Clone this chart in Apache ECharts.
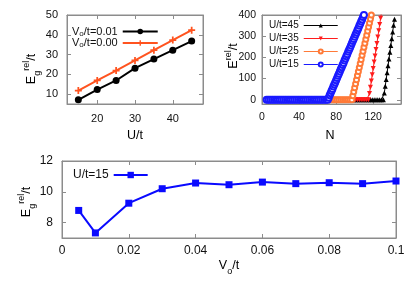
<!DOCTYPE html>
<html>
<head>
<meta charset="utf-8">
<script src="https://cdn.jsdelivr.net/npm/echarts@6/dist/echarts.min.js"></script>
<style>html,body{margin:0;padding:0;background:#fff}#c{width:415px;height:291px}</style>
</head>
<body>
<div id="c"></div>
<script>
// ---- Top-left panel: E_g^rel/t vs U/t ----
var uVals = [15, 20, 25, 30, 35, 40, 45];
var egV001 = [7.1, 12.3, 16.9, 23.1, 27.7, 32.2, 36.8];
var egV000 = [11.8, 16.9, 21.9, 27.0, 32.2, 37.3, 42.3];
var tlXTicks = [20, 30, 40];
var tlYTicks = [10, 20, 30, 40, 50];

// ---- Top-right panel: E^rel/t vs N ----
var eU45 = [[5,0],[9,0],[13,0],[17,0],[21,0],[25,0],[29,0],[33,0],[37,0],[41,0],[45,0],[49,0],[53,0],[57,0],[61,0],[65,0],[69,0],[73,0],[77,0],[81,0],[85,0],[89,0],[93,0],[97,0],[99,0],[101,0],[103,0],[105,0],[107,0],[109,0],[111,0],[113,0],[115,0],[117,0],[119,0],[121,0],[123,0],[125,0],[127,0],[129,0],[131,0],[132,32],[133,64],[134,96],[135,128],[136,160],[137,192],[138,224],[139,256],[140,288],[141,320],[142,352],[143,380]];
var eU35 = [[5,0],[9,0],[13,0],[17,0],[21,0],[25,0],[29,0],[33,0],[37,0],[41,0],[45,0],[49,0],[53,0],[57,0],[61,0],[65,0],[69,0],[73,0],[77,0],[81,0],[85,0],[89,0],[93,0],[97,0],[99,0],[101,0],[103,0],[105,0],[107,0],[109,0],[111,0],[113,0],[115,0],[116,30],[117,59],[118,89],[119,118],[120,148],[121,178],[122,207],[123,237],[124,266],[125,296],[126,326],[127,355],[128,385],[129,414]];
var eU25 = [[5,0],[9,0],[13,0],[17,0],[21,0],[25,0],[29,0],[33,0],[37,0],[41,0],[45,0],[49,0],[53,0],[57,0],[61,0],[65,0],[69,0],[71,0],[73,0],[75,0],[77,0],[79,0],[81,0],[83,0],[85,0],[87,0],[89,0],[91,0],[93,0],[95,0],[97,0],[98,19],[99,38],[100,57],[101,76],[102,95],[103,114],[104,133],[105,152],[106,171],[107,190],[108,210],[109,229],[110,248],[111,267],[112,286],[113,305],[114,324],[115,343],[116,362],[117,381],[118,400]];
var eU15 = [[5,0],[7,0],[9,0],[11,0],[13,0],[15,0],[17,0],[19,0],[21,0],[23,0],[25,0],[27,0],[29,0],[31,0],[33,0],[35,0],[37,0],[39,0],[41,0],[43,0],[45,0],[47,0],[49,0],[51,0],[53,0],[55,0],[57,0],[59,0],[61,0],[63,0],[65,0],[67,0],[69,0],[71,0],[72,10],[73,21],[74,31],[75,41],[76,51],[77,62],[78,72],[79,82],[80,92],[81,103],[82,113],[83,123],[84,133],[85,144],[86,154],[87,164],[88,174],[89,185],[90,195],[91,205],[92,215],[93,226],[94,236],[95,246],[96,256],[97,267],[98,277],[99,287],[100,297],[101,308],[102,318],[103,328],[104,338],[105,349],[106,359],[107,369],[108,379],[109,390],[110,400]];
var trXTicks = [0, 40, 80, 120];
var trYTicks = [0, 100, 200, 300, 400];

// ---- Bottom panel: E_g^rel/t vs V_o/t ----
var voVals = [0.005, 0.01, 0.02, 0.03, 0.04, 0.05, 0.06, 0.07, 0.08, 0.09, 0.1];
var egU15 = [8.79, 7.33, 9.26, 10.2, 10.57, 10.46, 10.63, 10.53, 10.59, 10.53, 10.70];
var bXTicks = [0, 0.02, 0.04, 0.06, 0.08, 0.1];
var bYTicks = [8, 10, 12];

var FONT = 'Liberation Sans';
var FRAME = '#8c8c8c';

function pairs(xs, ys) { return xs.map(function (x, i) { return [x, ys[i]]; }); }

function mkAxis(grid, pos, min, max, ticks, fs, margin, showLabel, fmt) {
  return {
    type: 'value', gridIndex: grid, position: pos, min: min, max: max,
    axisLine: { show: true, onZero: false, lineStyle: { color: FRAME, width: 1 } },
    axisTick: { show: true, inside: true, length: 4, customValues: ticks, lineStyle: { color: FRAME } },
    axisLabel: { show: showLabel, customValues: ticks, fontSize: fs, fontFamily: FONT, color: '#111', margin: margin, formatter: fmt },
    splitLine: { show: false }
  };
}

var richBase = function (fs) {
  return {
    a: { fontSize: fs, fontFamily: FONT, color: '#111', lineHeight: 20 },
    sub: { fontSize: fs * 0.72, fontFamily: FONT, color: '#111', lineHeight: 9, verticalAlign: 'bottom' },
    sup: { fontSize: fs * 0.72, fontFamily: FONT, color: '#111', lineHeight: 9, verticalAlign: 'top' }
  };
};

function title(x, y, text, fs, rot) {
  return {
    type: 'text', x: x, y: y, rotation: rot ? Math.PI / 2 : 0,
    style: { text: text, rich: richBase(fs), align: 'center', verticalAlign: 'middle', fontFamily: FONT }
  };
}

var fmtB = function (v) { return String(+v.toFixed(2)); };

var option = {
  animation: false,
  backgroundColor: '#fff',
  grid: [
    { left: 67, right: 212, top: 15, bottom: 187, show: true, borderColor: FRAME, borderWidth: 1 },
    { left: 262, right: 14, top: 15, bottom: 187, show: true, borderColor: FRAME, borderWidth: 1 },
    { left: 62, right: 19, top: 161, bottom: 53, show: true, borderColor: FRAME, borderWidth: 1 }
  ],
  xAxis: [
    mkAxis(0, 'bottom', 12, 48, tlXTicks, 11, 9, true),
    mkAxis(0, 'top', 12, 48, tlXTicks, 11, 9, false),
    mkAxis(1, 'bottom', 0, 150, trXTicks, 10.5, 8, true),
    mkAxis(1, 'top', 0, 150, trXTicks, 10.5, 8, false),
    mkAxis(2, 'bottom', 0, 0.1, bXTicks, 12, 7, true, fmtB),
    mkAxis(2, 'top', 0, 0.1, bXTicks, 12, 7, false)
  ],
  yAxis: [
    mkAxis(0, 'left', 5, 50, tlYTicks, 11, 9, true),
    mkAxis(0, 'right', 5, 50, tlYTicks, 11, 9, false),
    mkAxis(1, 'left', -20, 400, trYTicks, 10.5, 6, true),
    mkAxis(1, 'right', -20, 400, trYTicks, 10.5, 6, false),
    mkAxis(2, 'left', 7, 12, bYTicks, 12, 9, true),
    mkAxis(2, 'right', 7, 12, bYTicks, 12, 9, false)
  ],
  legend: [
    {
      data: ['V001', 'V000'], orient: 'vertical', left: 72, top: 26, padding: 0, itemGap: 0,
      align: 'right', itemWidth: 35, itemHeight: 7,
      formatter: function (n) { return n === 'V001' ? '{a|V}{sub|o}{a|/t=0.01}' : '{a|V}{sub|o}{a|/t=0.00}'; },
      textStyle: { fontFamily: FONT, fontSize: 11, color: '#111', rich: {
        a: { fontSize: 11, fontFamily: FONT, color: '#111', lineHeight: 12 },
        sub: { fontSize: 8, fontFamily: FONT, color: '#111', lineHeight: 6, verticalAlign: 'bottom' } } }
    },
    {
      data: ['U/t=45', 'U/t=35', 'U/t=25', 'U/t=15'], orient: 'vertical', left: 269, top: 19, padding: 0, itemGap: 0,
      align: 'right', itemWidth: 34, itemHeight: 5,
      itemStyle: { borderWidth: 1 }, lineStyle: { width: 1 },
      textStyle: { fontFamily: FONT, fontSize: 10, color: '#111', lineHeight: 13 }
    },
    {
      data: ['B15'], orient: 'vertical', left: 73, top: 168, padding: 0,
      align: 'right', itemWidth: 34, itemHeight: 8,
      formatter: function () { return 'U/t=15'; },
      textStyle: { fontFamily: FONT, fontSize: 12, color: '#111', lineHeight: 14 }
    }
  ],
  graphic: [
    title(135, 136, '{a|U/t}', 12.5, false),
    title(330, 136, '{a|N}', 12.5, false),
    title(229, 266, '{a|V}{sub|o}{a|/t}', 12.5, false),
    title(32, 69, '{a|E}{sub|g}{sup|rel}{a|/t}', 12.5, true),
    title(234, 56, '{a|E}{sup|rel}{a|/t}', 12.5, true),
    title(27, 202, '{a|E}{sub|g}{sup|rel}{a|/t}', 12.5, true)
  ],
  series: [
    { name: 'V001', type: 'line', xAxisIndex: 0, yAxisIndex: 0, data: pairs(uVals, egV001),
      symbol: 'circle', symbolSize: 7, lineStyle: { width: 2, color: '#000' }, itemStyle: { color: '#000' } },
    { name: 'V000', type: 'line', xAxisIndex: 0, yAxisIndex: 0, data: pairs(uVals, egV000),
      symbol: 'path://M3,0h2v3h3v2h-3v3h-2v-3h-3v-2h3z', symbolSize: 7, lineStyle: { width: 2, color: '#ff531f' }, itemStyle: { color: '#ff531f' } },

    { name: 'U/t=45', type: 'line', xAxisIndex: 2, yAxisIndex: 2, data: eU45,
      symbol: 'triangle', symbolSize: 5, lineStyle: { width: 1, color: '#000' }, itemStyle: { color: '#000' } },
    { name: 'U/t=35', type: 'line', xAxisIndex: 2, yAxisIndex: 2, data: eU35,
      symbol: 'path://M0,0L10,0L5,9Z', symbolSize: 5, lineStyle: { width: 1, color: '#ff1c1c' }, itemStyle: { color: '#ff1c1c' } },
    { name: 'U/t=25', type: 'line', xAxisIndex: 2, yAxisIndex: 2, data: eU25,
      symbol: 'emptyCircle', symbolSize: 5, lineStyle: { width: 1.2, color: '#ff7a38' }, itemStyle: { color: '#ff7a38', borderWidth: 1.5 } },
    { name: 'U/t=15', type: 'line', xAxisIndex: 2, yAxisIndex: 2, data: eU15,
      symbol: 'emptyCircle', symbolSize: 6, lineStyle: { width: 1.2, color: '#1a1aff' }, itemStyle: { color: '#1a1aff', borderWidth: 1.5 } },

    { name: 'B15', type: 'line', xAxisIndex: 4, yAxisIndex: 4, data: pairs(voVals, egU15),
      symbol: 'rect', symbolSize: 7, lineStyle: { width: 2, color: '#0a0aff' }, itemStyle: { color: '#0a0aff' } }
  ]
};

var chart = echarts.init(document.getElementById('c'), null, { renderer: 'canvas' });
chart.setOption(option);
</script>
</body>
</html>
